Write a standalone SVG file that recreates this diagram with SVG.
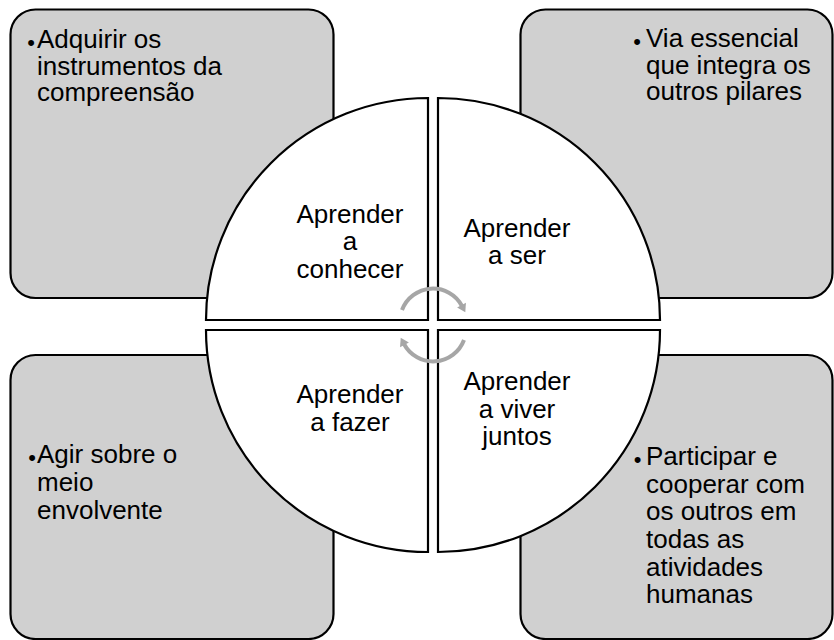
<svg xmlns="http://www.w3.org/2000/svg" width="834" height="640" viewBox="0 0 834 640">
<style>
.box{fill:#d0d0d0;stroke:#000;stroke-width:2.2}
.q{fill:#fff;stroke:#000;stroke-width:2.2}
.t{font-family:"Liberation Sans",Arial,Helvetica,sans-serif;font-size:26px;fill:#000}
.c{text-anchor:middle}
.b{font-family:"Liberation Sans",Arial,Helvetica,sans-serif;font-size:22px;fill:#000;text-anchor:middle}
.arc{fill:none;stroke:#a6a6a6;stroke-width:4}
</style>
<defs>
<marker id="ah" markerUnits="userSpaceOnUse" markerWidth="14" markerHeight="14" viewBox="-2 -7 14 14" refX="1" refY="0" orient="auto">
<path d="M0,-5 L8,0 L0,5 Z" fill="#a6a6a6"/>
</marker>
</defs>
<rect width="834" height="640" fill="#fff"/>
<g id="box-tl"><rect class="box" x="10.5" y="9.5" width="323" height="288.5" rx="25"/>
<text class="b" x="31" y="50">•</text>
<text class="t"><tspan x="37" y="48">Adquirir os</tspan><tspan x="37" y="75">instrumentos da</tspan><tspan x="37" y="101">compreensão</tspan></text></g>
<g id="box-tr"><rect class="box" x="520.5" y="9.5" width="312" height="288.5" rx="25"/>
<text class="b" x="637" y="49">•</text>
<text class="t"><tspan x="646" y="47">Via essencial</tspan><tspan x="646" y="73.5">que integra os</tspan><tspan x="646" y="100">outros pilares</tspan></text></g>
<g id="box-bl"><rect class="box" x="10.5" y="355" width="323" height="284" rx="25"/>
<text class="b" x="32" y="465">•</text>
<text class="t"><tspan x="37" y="463">Agir sobre o</tspan><tspan x="37" y="491">meio</tspan><tspan x="37" y="518.5">envolvente</tspan></text></g>
<g id="box-br"><rect class="box" x="520.5" y="355" width="312" height="284" rx="25"/>
<text class="b" x="637.5" y="466.5">•</text>
<text class="t"><tspan x="646" y="464.5">Participar e</tspan><tspan x="646" y="492.5">cooperar com</tspan><tspan x="646" y="520">os outros em</tspan><tspan x="646" y="548">todas as</tspan><tspan x="646" y="575.5">atividades</tspan><tspan x="646" y="603">humanas</tspan></text></g>
<g id="q-tl"><path class="q" d="M428,320 H206 A222,222 0 0 1 428,98 Z"/>
<text class="t c"><tspan x="350" y="222.5">Aprender</tspan><tspan x="350" y="250">a</tspan><tspan x="350" y="278">conhecer</tspan></text></g>
<g id="q-tr"><path class="q" d="M438,320 V98 A222,222 0 0 1 660,320 Z"/>
<text class="t c"><tspan x="517" y="236.5">Aprender</tspan><tspan x="517" y="264">a ser</tspan></text></g>
<g id="q-bl"><path class="q" d="M428,330 V552 A222,222 0 0 1 206,330 Z"/>
<text class="t c"><tspan x="350" y="403">Aprender</tspan><tspan x="350" y="430.5">a fazer</tspan></text></g>
<g id="q-br"><path class="q" d="M438,330 H660 A222,222 0 0 1 438,552 Z"/>
<text class="t c"><tspan x="517" y="390">Aprender</tspan><tspan x="517" y="417.5">a viver</tspan><tspan x="517" y="444.5">juntos</tspan></text></g>
<g id="connectors">
<path class="arc" d="M402,310 A33,33 0 0 1 462,306" marker-end="url(#ah)"/>
<path class="arc" d="M464,340 A33,33 0 0 1 404,344" marker-end="url(#ah)"/>
</g>
</svg>
